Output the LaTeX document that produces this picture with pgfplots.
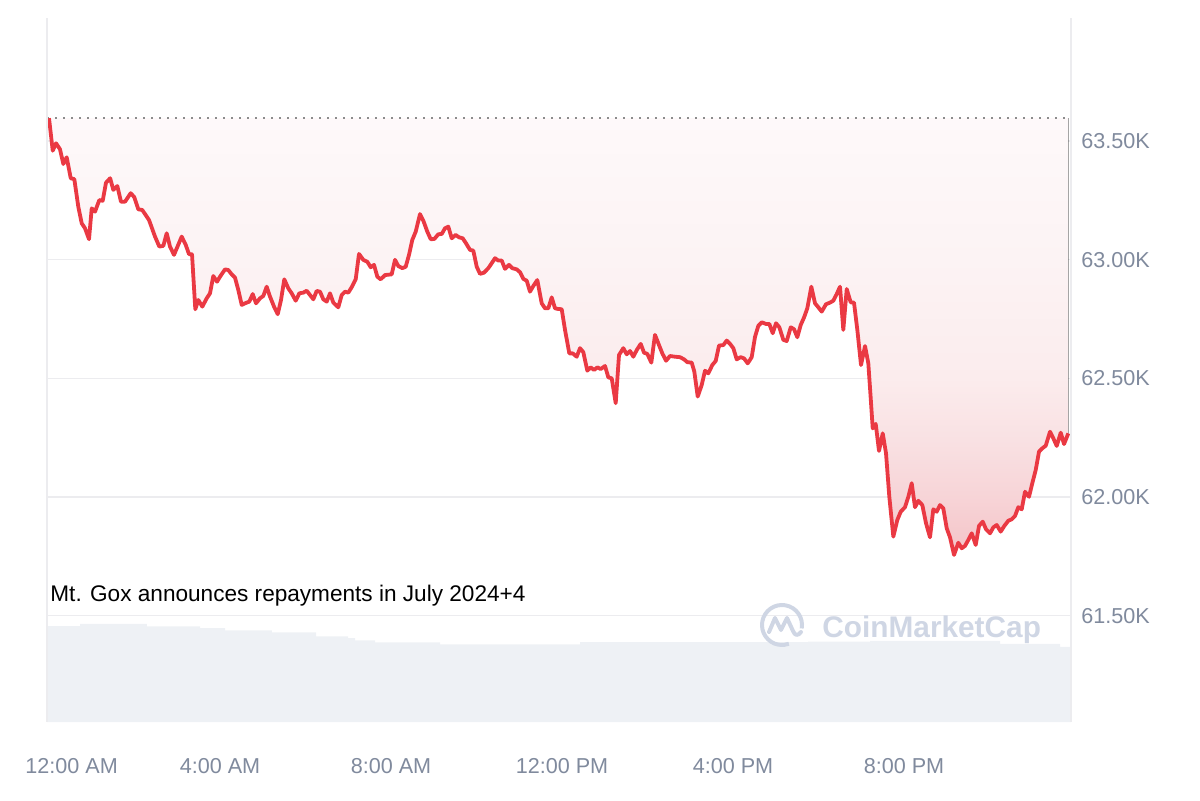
\documentclass[border=0pt]{standalone}
\usepackage{fontspec}
\setmainfont{Liberation Sans}
\usepackage{pgfplots}
\pgfplotsset{compat=1.18}
\usepackage{pgfplotstable}
\usepgfplotslibrary{fillbetween}
\definecolor{cmcred}{RGB}{234,57,67}
\definecolor{ticktxt}{RGB}{128,138,157}
\definecolor{gridc}{RGB}{236,236,239}
\definecolor{volc}{RGB}{238,241,245}
\definecolor{wm}{RGB}{207,214,228}
\definecolor{s0}{RGB}{244,195,199}
\definecolor{s1}{RGB}{247,212,215}
\definecolor{s2}{RGB}{249,225,227}
\definecolor{s3}{RGB}{251,236,237}
\definecolor{s4}{RGB}{252,243,244}
\definecolor{s5}{RGB}{254,249,250}
\pgfdeclareverticalshading{cmcshade}{100bp}{color(0bp)=(s0); color(25bp)=(s0); color(31.6bp)=(s1); color(38.2bp)=(s2); color(45.3bp)=(s3); color(58.9bp)=(s4); color(75bp)=(s5); color(100bp)=(s5)}

\pgfplotstableread{
h v
0.000 63.596
0.087 63.459
0.164 63.490
0.257 63.465
0.335 63.403
0.414 63.431
0.508 63.343
0.592 63.339
0.685 63.223
0.765 63.153
0.842 63.132
0.936 63.086
0.999 63.216
1.076 63.202
1.177 63.251
1.256 63.248
1.333 63.324
1.430 63.343
1.504 63.294
1.598 63.310
1.684 63.244
1.778 63.244
1.911 63.280
1.995 63.263
2.089 63.212
2.182 63.209
2.339 63.167
2.480 63.097
2.580 63.055
2.674 63.058
2.753 63.111
2.830 63.055
2.924 63.020
3.104 63.097
3.198 63.062
3.275 63.023
3.345 63.023
3.422 62.791
3.492 62.830
3.586 62.802
3.689 62.837
3.766 62.858
3.843 62.931
3.930 62.907
4.000 62.928
4.117 62.959
4.194 62.956
4.274 62.938
4.351 62.924
4.428 62.872
4.508 62.809
4.585 62.816
4.685 62.823
4.765 62.855
4.842 62.816
4.936 62.837
5.013 62.847
5.092 62.886
5.170 62.844
5.263 62.802
5.350 62.770
5.427 62.830
5.504 62.917
5.598 62.879
5.677 62.858
5.771 62.827
5.855 62.858
5.949 62.861
6.028 62.869
6.105 62.851
6.183 62.833
6.262 62.868
6.339 62.865
6.416 62.833
6.496 62.823
6.573 62.858
6.650 62.819
6.767 62.799
6.847 62.851
6.924 62.865
7.001 62.861
7.081 62.884
7.174 62.917
7.251 63.024
7.352 62.999
7.446 62.991
7.525 62.968
7.602 62.978
7.680 62.928
7.759 62.917
7.860 62.935
8.016 62.938
8.094 62.999
8.171 62.973
8.264 62.964
8.344 62.970
8.421 63.020
8.498 63.083
8.578 63.118
8.678 63.192
8.756 63.164
8.849 63.118
8.929 63.086
9.013 63.087
9.107 63.107
9.186 63.108
9.263 63.132
9.340 63.139
9.420 63.090
9.513 63.104
9.591 63.094
9.677 63.090
9.754 63.069
9.848 63.041
9.925 63.038
10.005 62.970
10.082 62.940
10.175 62.945
10.276 62.964
10.356 62.985
10.433 63.006
10.510 62.996
10.590 62.996
10.667 62.961
10.760 62.978
10.838 62.964
10.940 62.959
11.018 62.947
11.095 62.919
11.175 62.911
11.251 62.865
11.329 62.889
11.422 62.914
11.525 62.816
11.602 62.795
11.680 62.795
11.759 62.841
11.836 62.795
11.913 62.792
11.993 62.791
12.070 62.704
12.171 62.605
12.250 62.605
12.344 62.591
12.421 62.627
12.498 62.610
12.592 62.532
12.671 62.546
12.749 62.535
12.826 62.546
12.905 62.539
13.006 62.552
13.083 62.504
13.163 62.500
13.256 62.395
13.333 62.598
13.434 62.627
13.513 62.601
13.591 62.615
13.668 62.591
13.748 62.619
13.841 62.645
13.918 62.608
13.995 62.603
14.089 62.566
14.175 62.683
14.269 62.640
14.346 62.605
14.433 62.574
14.526 62.594
14.643 62.591
14.760 62.589
14.854 62.580
14.931 62.568
15.034 62.566
15.095 62.528
15.174 62.423
15.268 62.472
15.345 62.532
15.422 62.521
15.516 62.556
15.595 62.573
15.673 62.638
15.773 62.640
15.853 62.659
15.930 62.645
16.007 62.627
16.086 62.580
16.180 62.589
16.257 62.584
16.344 62.563
16.437 62.589
16.515 62.675
16.592 62.721
16.672 62.736
16.772 62.729
16.849 62.729
16.929 62.690
17.006 62.732
17.083 62.715
17.177 62.662
17.256 62.657
17.350 62.715
17.427 62.707
17.504 62.673
17.584 62.725
17.661 62.756
17.738 62.795
17.832 62.886
17.918 62.816
17.996 62.799
18.075 62.781
18.175 62.812
18.269 62.819
18.346 62.827
18.426 62.855
18.503 62.886
18.580 62.704
18.660 62.876
18.753 62.820
18.830 62.819
18.908 62.704
18.994 62.556
19.088 62.636
19.165 62.563
19.221 62.416
19.268 62.289
19.338 62.308
19.415 62.194
19.502 62.268
19.579 62.184
19.656 62.001
19.750 61.833
19.843 61.903
19.923 61.938
20.023 61.957
20.101 62.001
20.180 62.058
20.257 61.957
20.334 61.984
20.428 61.966
20.515 61.889
20.608 61.830
20.685 61.948
20.765 61.938
20.842 61.966
20.919 61.952
20.999 61.868
21.076 61.830
21.170 61.756
21.270 61.807
21.350 61.784
21.427 61.794
21.504 61.819
21.584 61.847
21.677 61.798
21.754 61.878
21.841 61.896
21.918 61.864
22.012 61.847
22.089 61.872
22.168 61.882
22.262 61.854
22.346 61.878
22.440 61.900
22.519 61.906
22.596 61.920
22.674 61.957
22.753 61.948
22.830 62.022
22.924 62.001
23.001 62.058
23.081 62.114
23.158 62.191
23.235 62.205
23.315 62.216
23.415 62.275
23.493 62.247
23.572 62.215
23.666 62.271
23.743 62.223
23.843 62.268
}\price

\pgfplotstableread{
h v
-0.047 61.456
0.725 61.465
2.292 61.455
3.532 61.447
4.117 61.438
5.216 61.430
6.246 61.413
6.994 61.405
7.158 61.396
7.626 61.388
9.146 61.379
12.421 61.389
17.754 61.391
19.205 61.394
22.246 61.381
23.649 61.369
23.906 61.369
}\volume

\begin{document}
\begin{tikzpicture}
\begin{axis}[
  set layers,
  at={(23.5pt,39pt)}, anchor=south west,
  scale only axis, width=512pt, height=352pt,
  xmin=-0.047, xmax=23.906, ymin=61.052, ymax=64.018,
  axis line style={draw=none},
  major tick length=0pt,
  xtick={0,4,8,12,16,20},
  xticklabels={{\makebox[0pt][l]{\hspace*{-11.8pt}12:00 AM}},4:00 AM,8:00 AM,12:00 PM,4:00 PM,8:00 PM},
  ytick={61.5,62,62.5,63,63.5},
  yticklabels={61.50K,62.00K,62.50K,63.00K,63.50K},
  yticklabel pos=right,
  xticklabel style={font=\fontsize{10.8}{12}\selectfont, text=ticktxt, inner sep=0pt, anchor=north, yshift=-18pt},
  yticklabel style={font=\fontsize{10.8}{12}\selectfont, text=ticktxt, inner sep=0pt, anchor=west, xshift=5pt},
  ymajorgrids,
  grid style={draw=gridc, line width=0.8pt},
]
\addplot[name path=vol, const plot, draw=none, forget plot] table[x=h,y=v] {\volume};
\addplot[name path=bot, draw=none, forget plot] coordinates {(-0.047,61.052) (23.906,61.052)};
\addplot[fill=volc, draw=none, on layer=axis background] fill between[of=vol and bot];
\addplot[name path=base, draw=none, forget plot] coordinates {(0,63.596) (23.843,63.596)};
\addplot[name path=price, draw=none, forget plot] table[x=h,y=v] {\price};
\addplot[shading=cmcshade, draw=none, on layer=axis background] fill between[of=price and base];
\addplot[color=black!45, line width=1pt, dash pattern=on 1pt off 3pt] coordinates {(-0.047,63.596) (23.906,63.596)};
\addplot[color=cmcred, line width=1.9pt, line join=round] table[x=h,y=v] {\price};
\end{axis}
\draw[gridc, line width=0.8pt] (23.5pt,39pt) -- (23.5pt,391pt);
\draw[gridc, line width=0.8pt] (535.5pt,39pt) -- (535.5pt,391pt);
\node[anchor=base west, inner sep=0pt, font=\fontsize{11.3}{13}\selectfont] at (25pt,99.3pt) {Mt. Gox announces repayments in July 2024+4};
\draw[wm, line width=2pt] ([shift={(-10:10pt)}]391pt,87.5pt) arc[start angle=-10, end angle=290, radius=10pt];
\draw[wm, line width=2pt, line cap=round, line join=round] (384.5pt,84pt) -- (387.5pt,91pt) -- (390.5pt,85pt) -- (393.5pt,91pt) -- (396.5pt,84.5pt) .. controls (397.5pt,82pt) and (399pt,82pt) .. (400.5pt,84pt);
\node[anchor=base west, inner sep=0pt, text=wm, font=\bfseries\fontsize{14.9}{16}\selectfont] at (411pt,81.5pt) {CoinMarketCap};
\path (0,0) rectangle (600pt,400pt);
\end{tikzpicture}
\end{document}
